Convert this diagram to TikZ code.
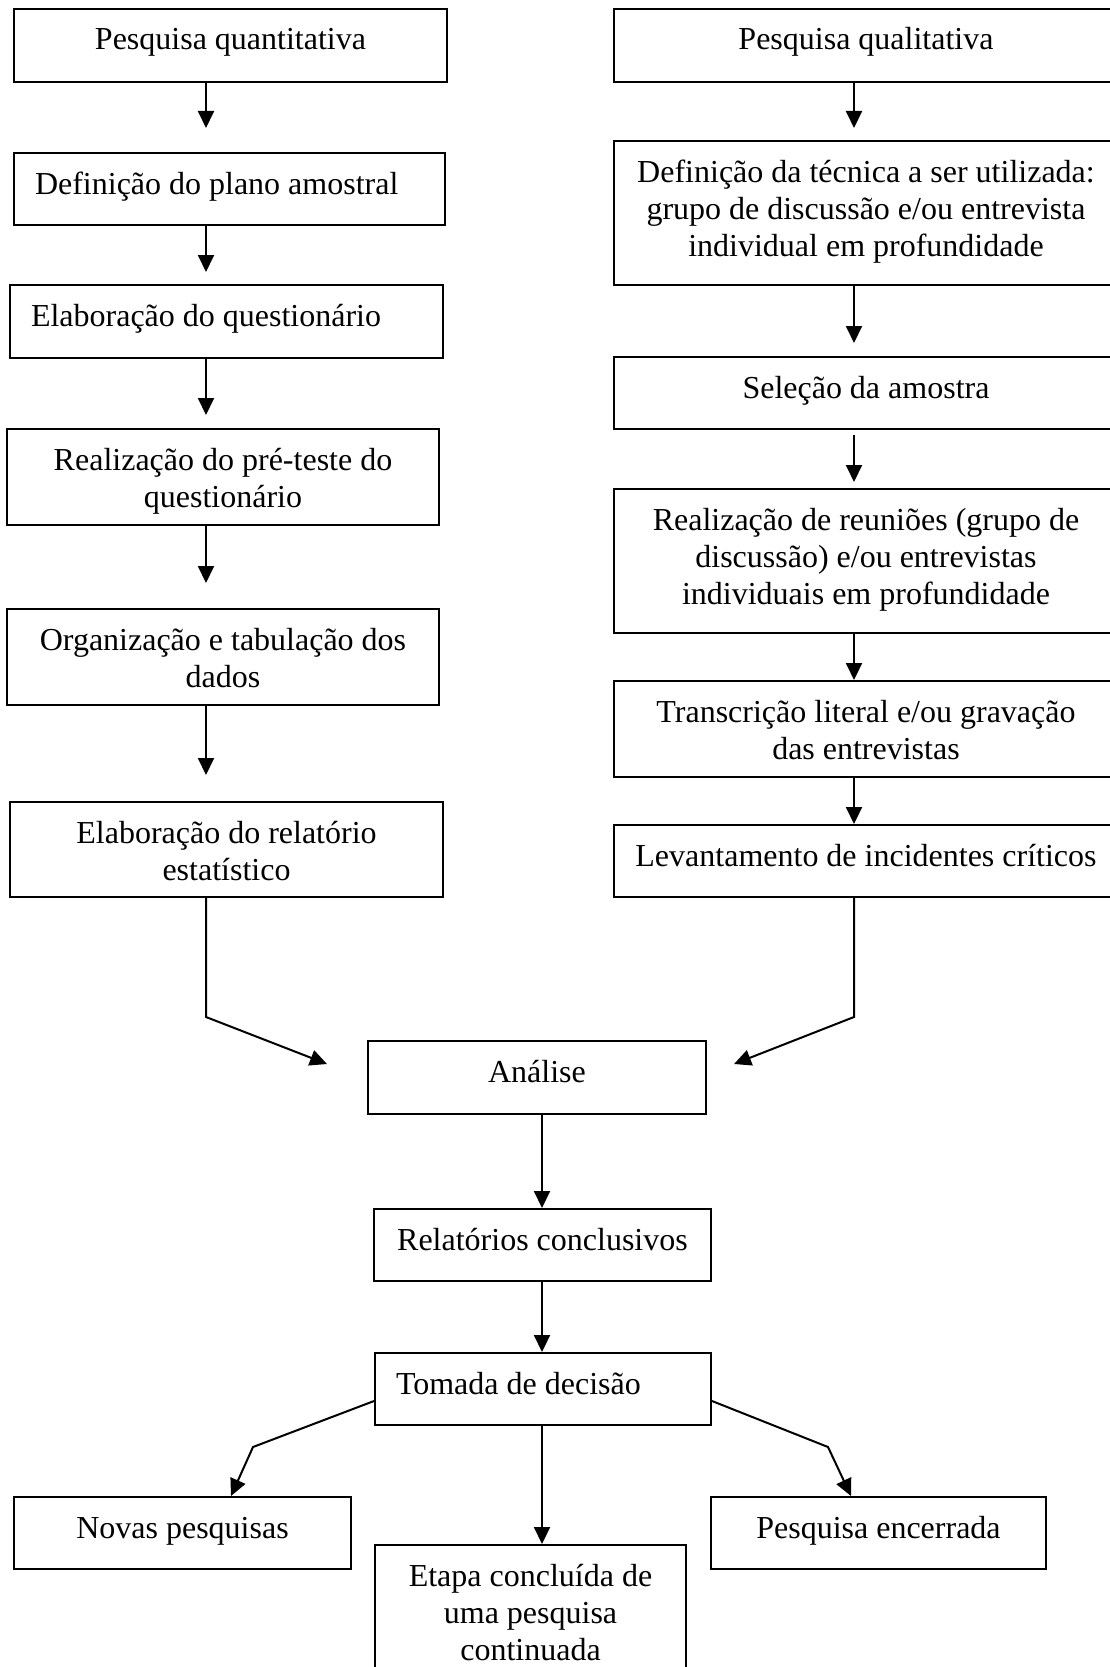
\documentclass[tikz,border=0pt]{standalone}
\usepackage{fontspec}
\setmainfont{Liberation Serif}
\usetikzlibrary{arrows.meta}

\tikzset{
  box/.style={draw, line width=2pt, inner sep=0pt, anchor=north west},
  arr/.style={line width=2pt, -{Triangle[length=17pt,width=16pt]}}
}
\newcommand{\ctext}[3]{\parbox[t][#1pt][t]{#2pt}{\centering\rule{0pt}{41pt}#3}}
\newcommand{\ltext}[3]{\parbox[t][#1pt][t]{#2pt}{\raggedright\rule{0pt}{41pt}\hspace*{21pt}#3}}

\begin{document}
\begin{tikzpicture}[x=1pt,y=-1pt,font=\fontsize{32}{37}\selectfont]
\useasboundingbox (0,0) rectangle (1110,1667);
\clip (0,0) rectangle (1110,1667);

% pesquisa quantitativa
\node[box] (l1) at (13,8) {\ctext{73}{433}{Pesquisa quantitativa}};
\node[box] (l2) at (13,152) {\ltext{72}{431}{Definição do plano amostral}};
\node[box] (l3) at (9,284) {\ltext{73}{433}{Elaboração do questionário}};
\node[box] (l4) at (6,428) {\ctext{96}{432}{Realização do pré-teste do\\questionário}};
\node[box] (l5) at (6,608) {\ctext{96}{432}{Organização e tabulação dos\\dados}};
\node[box] (l6) at (9,801) {\ctext{95}{433}{Elaboração do relatório\\estatístico}};

% pesquisa qualitativa
\node[box] (q1) at (613,8) {\ctext{73}{504}{Pesquisa qualitativa}};
\node[box] (q2) at (613,140) {\ctext{144}{504}{Definição da técnica a ser utilizada:\\grupo de discussão e/ou entrevista\\individual em profundidade}};
\node[box] (q3) at (613,356) {\ctext{72}{504}{Seleção da amostra}};
\node[box] (q4) at (613,488) {\ctext{144}{504}{Realização de reuniões (grupo de\\discussão) e/ou entrevistas\\individuais em profundidade}};
\node[box] (q5) at (613,680) {\ctext{96}{504}{Transcrição literal e/ou gravação\\das entrevistas}};
\node[box] (q6) at (613,824) {\ctext{72}{504}{Levantamento de incidentes críticos}};

% parte comum
\node[box] (an) at (367,1040) {\ctext{73}{338}{Análise}};
\node[box] (rc) at (373,1208) {\ctext{72}{337}{Relatórios conclusivos}};
\node[box] (td) at (374,1352) {\ltext{72}{336}{Tomada de decisão}};
\node[box] (nv) at (13,1496) {\ctext{72}{337}{Novas pesquisas}};
\node[box] (et) at (374,1544) {\ctext{160}{311}{Etapa concluída de\\uma pesquisa\\continuada}};
\node[box] (pe) at (710,1496) {\ctext{72}{335}{Pesquisa encerrada}};

\coordinate (lx) at (206,0);
\coordinate (rx) at (854,0);
\coordinate (cx) at (542,0);
\coordinate (nx) at (231,0);
\coordinate (px) at (851,0);
\coordinate (lbend) at (206,1017);
\coordinate (rbend) at (854,1017);
\coordinate (atl) at (327,1064);
\coordinate (atr) at (734,1064);
\coordinate (tbl) at (253,1447);
\coordinate (tbr) at (828,1447);

\draw[arr, shorten >=24pt] (lx |- l1.south) -- (lx |- l2.north);
\draw[arr, shorten >=12pt] (lx |- l2.south) -- (lx |- l3.north);
\draw[arr, shorten >=13pt] (lx |- l3.south) -- (lx |- l4.north);
\draw[arr, shorten >=25pt] (lx |- l4.south) -- (lx |- l5.north);
\draw[arr, shorten >=26pt] (lx |- l5.south) -- (lx |- l6.north);
\draw[arr] (lx |- l6.south) -- (lbend) -- (atl);

\draw[arr, shorten >=12pt] (rx |- q1.south) -- (rx |- q2.north);
\draw[arr, shorten >=13pt] (rx |- q2.south) -- (rx |- q3.north);
\draw[arr, shorten <=5pt, shorten >=6pt] (rx |- q3.south) -- (rx |- q4.north);
\draw[arr] (rx |- q4.south) -- (rx |- q5.north);
\draw[arr] (rx |- q5.south) -- (rx |- q6.north);
\draw[arr] (rx |- q6.south) -- (rbend) -- (atr);

\draw[arr] (cx |- an.south) -- (cx |- rc.north);
\draw[arr] (cx |- rc.south) -- (cx |- td.north);
\draw[arr] (cx |- td.south) -- (cx |- et.north);
\draw[arr] ([yshift=-12pt]td.west) -- (tbl) -- (nx |- nv.north);
\draw[arr] ([yshift=-12pt]td.east) -- (tbr) -- (px |- pe.north);
\end{tikzpicture}
\end{document}
